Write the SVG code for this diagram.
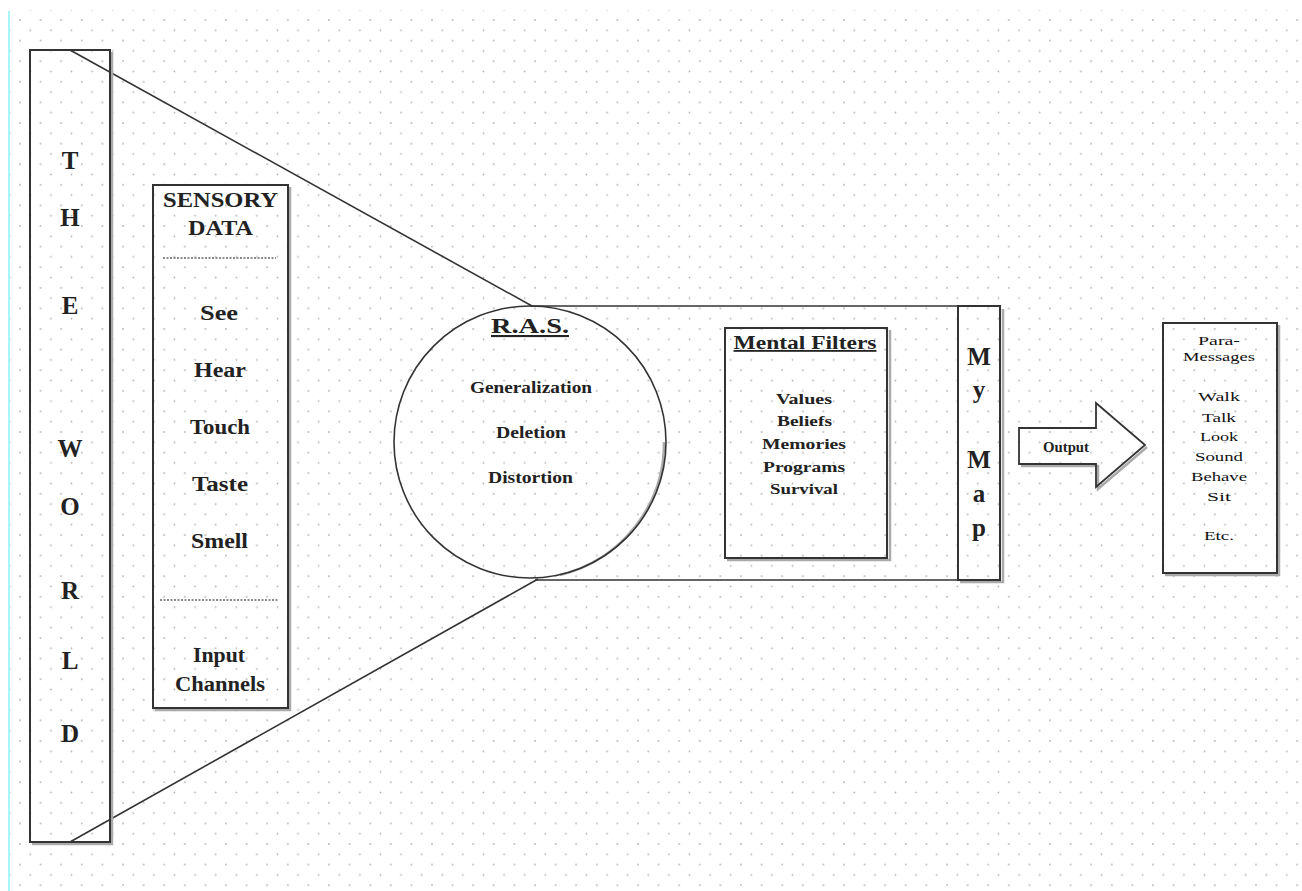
<svg xmlns="http://www.w3.org/2000/svg" width="1302" height="891" viewBox="0 0 1302 891">
<defs>
<pattern id="dots" x="20" y="20" width="20.6" height="20.6" patternUnits="userSpaceOnUse">
<circle cx="0" cy="0" r="0.9" fill="#b4b4b4"/><circle cx="20.6" cy="0" r="0.9" fill="#b4b4b4"/><circle cx="0" cy="20.6" r="0.9" fill="#b4b4b4"/><circle cx="20.6" cy="20.6" r="0.9" fill="#b4b4b4"/><circle cx="10.3" cy="10.3" r="0.9" fill="#b4b4b4"/>
</pattern>
</defs>
<style>
.box{fill:none;stroke:#333;stroke-width:2}
.sh{fill:none;stroke:#aaa;stroke-width:2.5}
.ln{fill:none;stroke:#333;stroke-width:1.6}
.sep{stroke:#666;stroke-width:1.5;stroke-dasharray:2 1.5}
text{font-family:"Liberation Serif","Times New Roman",serif;font-weight:bold;fill:#222;text-anchor:middle}
.w{font-size:25px}
.s{font-size:20px}
.r{font-size:16px}
.m{font-size:15px}
.p{font-size:13px;font-weight:normal;fill:#111}
</style>
<rect width="1302" height="891" fill="#fff"/>
<rect x="10" y="10" width="1292" height="881" fill="url(#dots)"/>
<line x1="9" y1="11" x2="9" y2="891" stroke="#a8f4f8" stroke-width="2"/>

<g id="connectors">
<line class="ln" x1="70" y1="50" x2="532" y2="306"/>
<line class="ln" x1="70" y1="842" x2="538" y2="579"/>
</g>

<g id="the-world">
<polyline class="sh" points="112,52 112,844 32,844"/>
<rect class="box" x="30" y="50" width="80" height="792"/>
<text class="w" x="70" y="169">T</text>
<text class="w" x="70" y="226">H</text>
<text class="w" x="70" y="314">E</text>
<text class="w" x="70" y="457">W</text>
<text class="w" x="70" y="515">O</text>
<text class="w" x="70" y="599">R</text>
<text class="w" x="70" y="669">L</text>
<text class="w" x="70" y="742">D</text>
</g>

<g id="sensory-data">
<polyline class="sh" points="290,187 290,710 155,710"/>
<rect class="box" x="153" y="185" width="135" height="523"/>
<text class="s" x="220.5" y="207" textLength="115" lengthAdjust="spacingAndGlyphs">SENSORY</text>
<text class="s" x="220.5" y="235" textLength="65" lengthAdjust="spacingAndGlyphs">DATA</text>
<line class="sep" x1="163" y1="258" x2="276" y2="258"/>
<text class="s" x="219" y="320" textLength="38" lengthAdjust="spacingAndGlyphs">See</text>
<text class="s" x="220" y="377" textLength="52" lengthAdjust="spacingAndGlyphs">Hear</text>
<text class="s" x="220" y="434" textLength="60" lengthAdjust="spacingAndGlyphs">Touch</text>
<text class="s" x="220" y="491" textLength="56" lengthAdjust="spacingAndGlyphs">Taste</text>
<text class="s" x="219.5" y="548" textLength="57" lengthAdjust="spacingAndGlyphs">Smell</text>
<line class="sep" x1="160" y1="600" x2="279" y2="600"/>
<text class="s" x="219" y="662" textLength="52" lengthAdjust="spacingAndGlyphs">Input</text>
<text class="s" x="220" y="691" textLength="90" lengthAdjust="spacingAndGlyphs">Channels</text>
</g>

<g id="filter-channel">
<line class="ln" x1="530" y1="306" x2="1000" y2="306"/>
<line class="ln" x1="535" y1="580" x2="1000" y2="580"/>
</g>

<g id="ras">
<path d="M 664 442 A 136 136 0 0 1 560 575" class="sh"/>
<circle class="box" cx="530" cy="442" r="136" style="stroke-width:1.6"/>
<text x="530" y="333" style="font-size:21px;text-decoration:underline" textLength="78" lengthAdjust="spacingAndGlyphs">R.A.S.</text>
<text class="r" x="531" y="393" textLength="122" lengthAdjust="spacingAndGlyphs">Generalization</text>
<text class="r" x="531" y="438" textLength="70" lengthAdjust="spacingAndGlyphs">Deletion</text>
<text class="r" x="530.5" y="483" textLength="85" lengthAdjust="spacingAndGlyphs">Distortion</text>
</g>

<g id="mental-filters">
<polyline class="sh" points="890,330 890,560 727,560"/>
<rect class="box" x="725" y="328" width="162" height="230"/>
<text x="805" y="349" style="font-size:18px;text-decoration:underline" textLength="143" lengthAdjust="spacingAndGlyphs">Mental Filters</text>
<text class="m" x="804" y="404" textLength="56" lengthAdjust="spacingAndGlyphs">Values</text>
<text class="m" x="804.5" y="426" textLength="55" lengthAdjust="spacingAndGlyphs">Beliefs</text>
<text class="m" x="804" y="449" textLength="84" lengthAdjust="spacingAndGlyphs">Memories</text>
<text class="m" x="804" y="472" textLength="82" lengthAdjust="spacingAndGlyphs">Programs</text>
<text class="m" x="804" y="494" textLength="68" lengthAdjust="spacingAndGlyphs">Survival</text>
</g>

<g id="my-map">
<polyline class="sh" points="1003,309 1003,582 960,582"/>
<rect class="box" x="958" y="306" width="42" height="274"/>
<text class="w" x="979" y="365">M</text>
<text class="w" x="979" y="398">y</text>
<text class="w" x="979" y="468">M</text>
<text class="w" x="979" y="502">a</text>
<text class="w" x="979" y="536">p</text>
</g>

<g id="output-arrow">
<polyline class="sh" points="1021,466 1098,466 1098,489 1147,447"/>
<polygon class="box" points="1019,428 1096,428 1096,403 1145,445 1096,487 1096,464 1019,464" style="stroke-width:1.8"/>
<text x="1066" y="452" style="font-size:14px" textLength="46" lengthAdjust="spacingAndGlyphs">Output</text>
</g>

<g id="para-messages">
<polyline class="sh" points="1279,325 1279,575 1165,575"/>
<rect class="box" x="1163" y="323" width="114" height="250"/>
<text class="p" x="1219" y="345" textLength="42" lengthAdjust="spacingAndGlyphs">Para-</text>
<text class="p" x="1219" y="361" textLength="72" lengthAdjust="spacingAndGlyphs">Messages</text>
<text class="p" x="1219" y="401" textLength="42" lengthAdjust="spacingAndGlyphs">Walk</text>
<text class="p" x="1219" y="422" textLength="34" lengthAdjust="spacingAndGlyphs">Talk</text>
<text class="p" x="1219" y="441" textLength="38" lengthAdjust="spacingAndGlyphs">Look</text>
<text class="p" x="1219" y="461" textLength="48" lengthAdjust="spacingAndGlyphs">Sound</text>
<text class="p" x="1219" y="481" textLength="56" lengthAdjust="spacingAndGlyphs">Behave</text>
<text class="p" x="1219" y="501" textLength="24" lengthAdjust="spacingAndGlyphs">Sit</text>
<text class="p" x="1219" y="540" textLength="30" lengthAdjust="spacingAndGlyphs">Etc.</text>
</g>
</svg>
